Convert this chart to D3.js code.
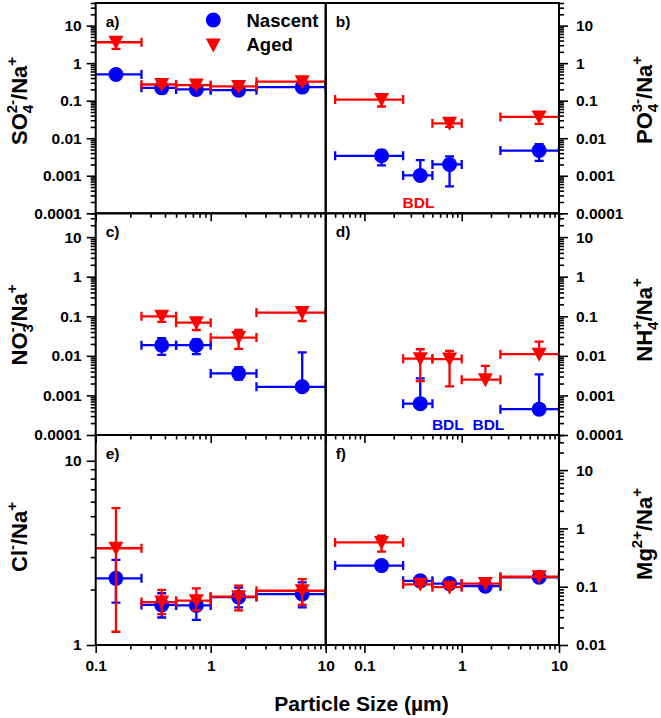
<!DOCTYPE html>
<html>
<head>
<meta charset="utf-8">
<script src="https://cdn.jsdelivr.net/npm/d3@7"></script>
<style>
    body { margin: 0; background: #fff; }
    svg { font-family: "Liberation Sans", Arial, sans-serif; font-weight: bold; }
</style>
</head>
<body>
<div id="chart"></div>
<script>
// size bins (µm)
const binCenter = [0.15, 0.375, 0.75, 1.75, 6.25];
const binLow = [0.05, 0.25, 0.5, 1.0, 2.5];
const binHigh = [0.25, 0.5, 1.0, 2.5, 10];

// a) SO4 2- / Na+
const so4Nascent = [0.50, 0.22, 0.20, 0.19, 0.23];
const so4NascentLo = [0.44, 0.20, 0.18, 0.17, 0.21];
const so4NascentHi = [0.56, 0.25, 0.22, 0.21, 0.26];
const so4Aged = [3.6, 0.27, 0.26, 0.24, 0.32];
const so4AgedLo = [2.4, 0.24, 0.23, 0.21, 0.28];
const so4AgedHi = [4.4, 0.31, 0.30, 0.28, 0.37];

// b) PO4 3- / Na+
const po4Nascent = [0.0034, 0.00102, 0.002, null, 0.0047];
const po4NascentLo = [0.0019, null, 0.00052, null, 0.0025];
const po4NascentHi = [0.0048, 0.0026, 0.0033, null, 0.0069];
const po4Aged = [0.107, null, 0.025, null, 0.037];
const po4AgedLo = [0.07, null, 0.02, null, 0.024];
const po4AgedHi = [0.14, null, 0.033, null, 0.045];

// c) NO3 - / Na+
const no3Nascent = [null, 0.0186, 0.0186, 0.0036, 0.00165];
const no3NascentLo = [null, 0.0106, 0.011, 0.0025, null];
const no3NascentHi = [null, 0.028, 0.026, 0.0052, 0.0122];
const no3Aged = [null, 0.10, 0.069, 0.029, 0.124];
const no3AgedLo = [null, 0.072, 0.045, 0.015, 0.076];
const no3AgedHi = [null, 0.13, 0.087, 0.045, 0.158];

// d) NH4 + / Na+
const nh4Nascent = [null, 0.00062, null, null, 0.00045];
const nh4NascentLo = [null, null, null, null, null];
const nh4NascentHi = [null, 0.0027, null, null, 0.0034];
const nh4Aged = [null, 0.0085, 0.0083, 0.0025, 0.011];
const nh4AgedLo = [null, 0.0023, 0.0017, null, null];
const nh4AgedHi = [null, 0.0147, 0.0134, 0.0056, 0.0229];

// e) Cl- / Na+
const clNascent = [2.30, 1.65, 1.64, 1.82, 1.89];
const clNascentLo = [1.70, 1.41, 1.37, 1.60, 1.60];
const clNascentHi = [2.90, 1.91, 1.85, 2.05, 2.19];
const clAged = [3.35, 1.71, 1.74, 1.83, 1.97];
const clAgedLo = [1.18, 1.47, 1.54, 1.54, 1.65];
const clAgedHi = [5.53, 1.99, 2.03, 2.10, 2.28];

// f) Mg2+ / Na+
const mgNascent = [0.23, 0.126, 0.113, 0.102, 0.145];
const mgNascentLo = [null, null, null, null, null];
const mgNascentHi = [null, null, null, null, null];
const mgAged = [0.575, 0.11, 0.098, 0.113, 0.148];
const mgAgedLo = [0.40, null, null, null, null];
const mgAgedHi = [0.75, null, null, null, null];

const blue = "#0000ff";
const red = "#ff0000";

const width = 661;
const height = 718;
const cols = [[95.7, 325.7], [325.7, 559]];
const rows = [[3, 213.3], [213.3, 435], [435, 645]];

const xScales = [
    d3.scaleLog().domain([0.1, 10]).range(cols[0]),
    d3.scaleLog().domain([0.04, 10]).range(cols[1])
];

const panels = [
    {tag: "a)", col: 0, row: 0, domain: [1e-4, 40], labelY: 101,
        title: [["SO"], ["4", "sub"], ["2-", "supback"], ["/Na"], ["+", "sup"]],
        nas: [so4Nascent, so4NascentLo, so4NascentHi], aged: [so4Aged, so4AgedLo, so4AgedHi]},
    {tag: "b)", col: 1, row: 0, domain: [1e-4, 40], labelY: 100,
        title: [["PO"], ["4", "sub"], ["3-", "supback"], ["/Na"], ["+", "sup"]],
        nas: [po4Nascent, po4NascentLo, po4NascentHi], aged: [po4Aged, po4AgedLo, po4AgedHi],
        bdl: [{x: 0.36, color: red}]},
    {tag: "c)", col: 0, row: 1, domain: [1e-4, 40], labelY: 325,
        title: [["NO"], ["3", "sub"], ["-", "supback"], ["/Na"], ["+", "sup"]],
        nas: [no3Nascent, no3NascentLo, no3NascentHi], aged: [no3Aged, no3AgedLo, no3AgedHi]},
    {tag: "d)", col: 1, row: 1, domain: [1e-4, 40], labelY: 320,
        title: [["NH"], ["4", "sub"], ["+", "supback"], ["/Na"], ["+", "sup"]],
        nas: [nh4Nascent, nh4NascentLo, nh4NascentHi], aged: [nh4Aged, nh4AgedLo, nh4AgedHi],
        bdl: [{x: 0.72, color: blue}, {x: 1.88, color: blue}]},
    {tag: "e)", col: 0, row: 2, domain: [1, 13.8], labelY: 537,
        title: [["Cl"], ["-", "sup"], ["/Na"], ["+", "sup"]],
        nas: [clNascent, clNascentLo, clNascentHi], aged: [clAged, clAgedLo, clAgedHi]},
    {tag: "f)", col: 1, row: 2, domain: [0.01, 40], labelY: 534,
        title: [["Mg"], ["2+", "sup"], ["/Na"], ["+", "sup"]],
        nas: [mgNascent, mgNascentLo, mgNascentHi], aged: [mgAged, mgAgedLo, mgAgedHi]}
];

const svg = d3.select("#chart").append("svg")
    .attr("width", width)
    .attr("height", height);

function decades(domain) {
    const out = [];
    for (let k = Math.ceil(Math.log10(domain[0]) - 1e-9); k <= Math.floor(Math.log10(domain[1]) + 1e-9); k++) {
        out.push(Math.pow(10, k));
    }
    return out;
}

function minors(domain) {
    const out = [];
    for (let k = Math.floor(Math.log10(domain[0])); k <= Math.ceil(Math.log10(domain[1])); k++) {
        for (let m = 2; m <= 9; m++) {
            const v = m * Math.pow(10, k);
            if (v >= domain[0] * 0.9999 && v <= domain[1] * 1.0001) out.push(v);
        }
    }
    return out;
}

function styleAxis(g) {
    g.select(".domain").remove();
    g.selectAll("line").attr("stroke", "#000").attr("stroke-width", 1.6);
    g.selectAll("text").attr("font-size", 15.5).attr("font-weight", "bold").attr("fill", "#000")
        .attr("font-family", "Liberation Sans, Arial, sans-serif");
}

// sub/superscripts; "supback" stacks the superscript above the preceding subscript
function writeTitle(text, parts) {
    let shift = 0;
    let subWidth = 0;
    parts.forEach(function (p) {
        const str = p[0];
        const kind = p[1];
        let target = 0;
        let size = 22;
        if (kind === "sub") { target = 6; size = 15; }
        if (kind === "sup" || kind === "supback") { target = -10; size = 15; }
        const ts = text.append("tspan")
            .attr("font-size", size)
            .attr("dy", target - shift)
            .text(str);
        if (kind === "supback") ts.attr("dx", -subWidth);
        if (kind === "sub") subWidth = 8.4 * str.length;
        shift = target;
    });
}

const triPath = "M-7.5,-6.5L7.5,-6.5L0,7.5Z";

panels.forEach(function (p, pi) {
    const x = xScales[p.col];
    const [x0, x1] = cols[p.col];
    const [y0, y1] = rows[p.row];
    const y = d3.scaleLog().domain(p.domain).range([y1, y0]);

    const clipId = "clip" + pi;
    svg.append("clipPath").attr("id", clipId)
        .append("rect").attr("x", x0).attr("y", y0).attr("width", x1 - x0).attr("height", y1 - y0);

    const plot = svg.append("g").attr("clip-path", "url(#" + clipId + ")");

    const series = [
        {vals: p.nas, color: blue, shape: "circle"},
        {vals: p.aged, color: red, shape: "tri"}
    ];

    series.forEach(function (s) {
        const pts = s.vals[0].map(function (v, i) {
            return {i: i, v: v, lo: s.vals[1][i], hi: s.vals[2][i]};
        }).filter(function (d) { return d.v !== null; });

        const g = plot.append("g")
            .attr("stroke", s.color)
            .attr("stroke-width", 2.3)
            .attr("fill", s.color);

        // horizontal bin bars
        g.selectAll(".hbar").data(pts).enter().append("line")
            .attr("x1", function (d) { return x(binLow[d.i]); })
            .attr("x2", function (d) { return x(binHigh[d.i]); })
            .attr("y1", function (d) { return y(d.v); })
            .attr("y2", function (d) { return y(d.v); });
        g.selectAll(".hcapL").data(pts).enter().append("line")
            .attr("x1", function (d) { return x(binLow[d.i]); })
            .attr("x2", function (d) { return x(binLow[d.i]); })
            .attr("y1", function (d) { return y(d.v) - 4.5; })
            .attr("y2", function (d) { return y(d.v) + 4.5; });
        g.selectAll(".hcapR").data(pts).enter().append("line")
            .attr("x1", function (d) { return x(binHigh[d.i]); })
            .attr("x2", function (d) { return x(binHigh[d.i]); })
            .attr("y1", function (d) { return y(d.v) - 4.5; })
            .attr("y2", function (d) { return y(d.v) + 4.5; });

        // vertical error bars
        const ve = pts.filter(function (d) { return d.lo !== null || d.hi !== null; });
        g.selectAll(".vbar").data(ve).enter().append("line")
            .attr("x1", function (d) { return x(binCenter[d.i]); })
            .attr("x2", function (d) { return x(binCenter[d.i]); })
            .attr("y1", function (d) { return y(d.lo !== null ? d.lo : d.v); })
            .attr("y2", function (d) { return y(d.hi !== null ? d.hi : d.v); });
        g.selectAll(".vcapLo").data(ve.filter(function (d) { return d.lo !== null; })).enter().append("line")
            .attr("x1", function (d) { return x(binCenter[d.i]) - 4.5; })
            .attr("x2", function (d) { return x(binCenter[d.i]) + 4.5; })
            .attr("y1", function (d) { return y(d.lo); })
            .attr("y2", function (d) { return y(d.lo); });
        g.selectAll(".vcapHi").data(ve.filter(function (d) { return d.hi !== null; })).enter().append("line")
            .attr("x1", function (d) { return x(binCenter[d.i]) - 4.5; })
            .attr("x2", function (d) { return x(binCenter[d.i]) + 4.5; })
            .attr("y1", function (d) { return y(d.hi); })
            .attr("y2", function (d) { return y(d.hi); });

        // markers
        if (s.shape === "circle") {
            g.selectAll(".mark").data(pts).enter().append("circle")
                .attr("stroke", "none")
                .attr("cx", function (d) { return x(binCenter[d.i]); })
                .attr("cy", function (d) { return y(d.v); })
                .attr("r", 7.5);
        } else {
            g.selectAll(".mark").data(pts).enter().append("path")
                .attr("stroke", "none")
                .attr("d", triPath)
                .attr("transform", function (d) {
                    return "translate(" + x(binCenter[d.i]) + "," + y(d.v) + ")";
                });
        }
    });

    // BDL notes
    (p.bdl || []).forEach(function (b) {
        svg.append("text")
            .attr("x", x(b.x))
            .attr("y", y1 - 5)
            .attr("text-anchor", "middle")
            .attr("font-size", 15.5)
            .attr("fill", b.color)
            .text("BDL");
    });

    // panel frame
    svg.append("rect")
        .attr("x", x0).attr("y", y0)
        .attr("width", x1 - x0).attr("height", y1 - y0)
        .attr("fill", "none")
        .attr("stroke", "#000")
        .attr("stroke-width", 2);

    // panel tag
    svg.append("text")
        .attr("x", x0 + 10)
        .attr("y", y0 + 24)
        .attr("font-size", 15.5)
        .text(p.tag);

    // y axis (left for left column, right for right column)
    const yMajor = p.col === 0 ? d3.axisLeft(y) : d3.axisRight(y);
    yMajor.tickValues(decades(p.domain)).tickSize(9)
        .tickPadding(p.col === 0 ? 5 : 8)
        .tickFormat(d3.format("~g"));
    const yMinor = p.col === 0 ? d3.axisLeft(y) : d3.axisRight(y);
    yMinor.tickValues(minors(p.domain)).tickSize(5).tickFormat("");
    const axX = p.col === 0 ? x0 : x1;
    svg.append("g").attr("transform", "translate(" + axX + ",0)").call(yMajor).call(styleAxis);
    svg.append("g").attr("transform", "translate(" + axX + ",0)").call(yMinor).call(styleAxis);

    // x axis ticks under every panel, labels on the bottom row only
    const xMajor = d3.axisBottom(x).tickValues([0.1, 1, 10]).tickSize(8).tickPadding(7)
        .tickFormat(p.row === 2 ? d3.format("~g") : "");
    const xMinor = d3.axisBottom(x).tickValues(minors(x.domain())).tickSize(4.5).tickFormat("");
    svg.append("g").attr("transform", "translate(0," + y1 + ")").call(xMajor).call(styleAxis);
    svg.append("g").attr("transform", "translate(0," + y1 + ")").call(xMinor).call(styleAxis);
    svg.selectAll("g text").filter(function () { return this.textContent === ""; }).remove();

    // axis title
    const tx = p.col === 0 ? 27 : 652;
    const title = svg.append("text")
        .attr("transform", "translate(" + tx + "," + p.labelY + ") rotate(-90)")
        .attr("text-anchor", "middle")
        .attr("font-size", 22);
    writeTitle(title, p.title);
});

// legend (inside panel a)
const legend = svg.append("g");
legend.append("circle").attr("cx", 213.3).attr("cy", 20).attr("r", 7.5).attr("fill", blue);
legend.append("path").attr("d", triPath).attr("fill", red).attr("transform", "translate(213.3,45)");
legend.append("text").attr("x", 246.5).attr("y", 26.5).attr("font-size", 18.5).text("Nascent");
legend.append("text").attr("x", 246.5).attr("y", 51).attr("font-size", 18.5).text("Aged");

// x axis title
svg.append("text")
    .attr("x", 361.5)
    .attr("y", 711)
    .attr("text-anchor", "middle")
    .attr("font-size", 21)
    .text("Particle Size (µm)");
</script>
</body>
</html>
